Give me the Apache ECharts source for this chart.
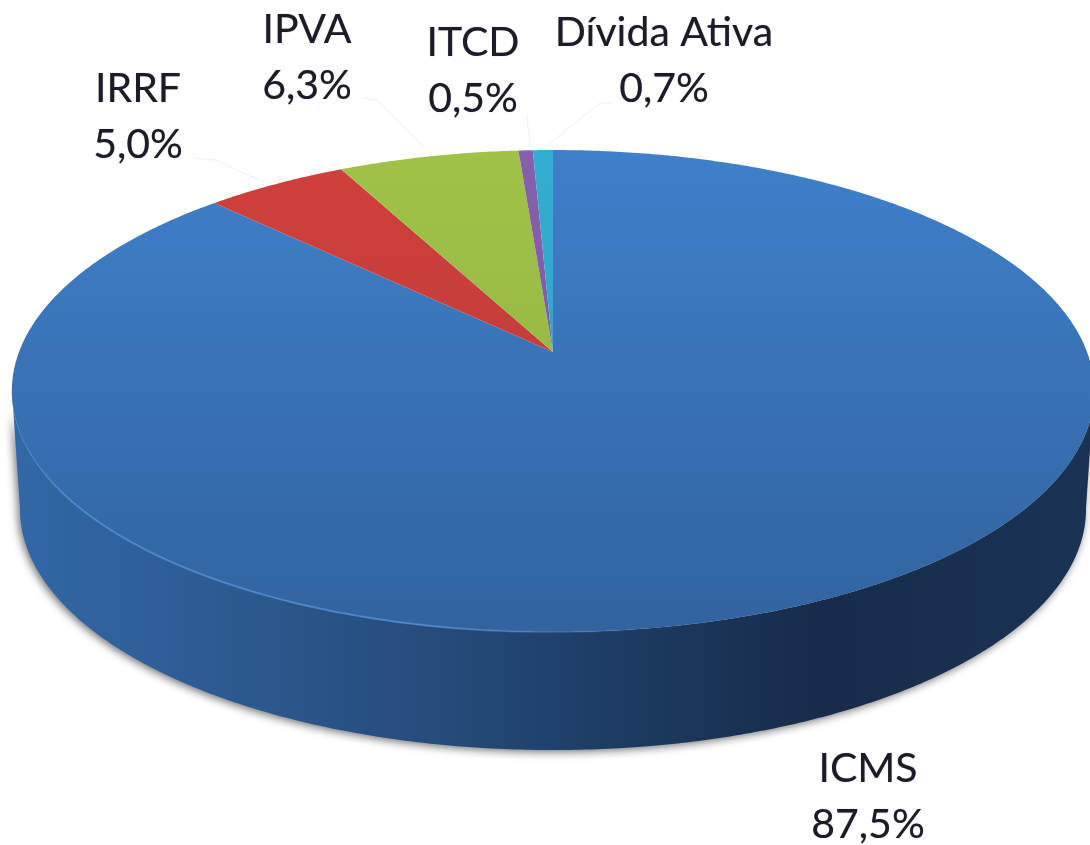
<!DOCTYPE html>
<html>
<head>
<meta charset="utf-8">
<script src="https://cdn.jsdelivr.net/npm/echarts@6/dist/echarts.min.js"></script>
<style>html,body{margin:0;padding:0;background:#fff}#c{width:1090px;height:845px}</style>
</head>
<body>
<div id="c"></div>
<script>
var categories = ['ICMS', 'IRRF', 'IPVA', 'ITCD', 'Dívida Ativa'];
var values = [87.5, 5.0, 6.3, 0.5, 0.7];

// drawing constants (perspective view of the disc)
var view = { ax: 553, ay: 352, A: 534, B: 234.7, k: 0.162, depth: 118, baseScale: 0.985, wallFrom: 99, wallTo: 261 };
var faceColors = [['#3f80cb', '#31639f'], ['#cf403c', '#b83a38'], ['#a0c248', '#8fb040'], ['#8560ad', '#7a56a0'], ['#33aed0', '#2a9cbc']];
var labelAt = [[868, 797], [138, 117], [307, 58], [473, 71], [664, 61]];
var leaders = [null, [[195, 158], [215, 160], [264, 182]], [[362, 98], [377, 100], [425, 148]], [[527, 115], [530, 147]], [[613, 103], [600, 103], [545, 147]]];

var total = values.reduce(function (s, v) { return s + v; }, 0);
var cum = [0];
values.forEach(function (v, i) { cum.push(cum[i] + v); });

function project(deg, base) {
  var t = deg * Math.PI / 180, u = Math.sin(t), v = Math.cos(t), w = 1 + view.k * v;
  var sx = base ? view.baseScale : 1;
  return [view.ax + sx * view.A * u / w, view.ay - view.B * v / w + (base ? view.depth : 0)];
}
function arc(a, b, base) {
  var pts = [], n = Math.max(2, Math.ceil((b - a) / 0.5));
  for (var i = 0; i <= n; i++) pts.push(project(a + (b - a) * i / n, base));
  return pts;
}
function hGrad(stops) { return new echarts.graphic.LinearGradient(0, 0, 1090, 0, stops, true); }
function vGrad(c) { return new echarts.graphic.LinearGradient(0, 150, 0, 632, [{ offset: 0, color: c[0] }, { offset: 1, color: c[1] }], true); }

function renderItem(params, api) {
  var i = params.dataIndex;
  var a = api.value(1) / total * 360, b = api.value(2) / total * 360;
  var children = [];
  var wa = Math.max(a, view.wallFrom), wb = Math.min(b, view.wallTo);
  if (wb > wa) {
    children.push({
      type: 'polygon', silent: true,
      shape: { points: arc(wa, wb, false).concat(arc(wa, wb, true).reverse()) },
      style: {
        fill: hGrad([
          { offset: 0, color: '#3269a8' }, { offset: 0.18, color: '#2d5c94' }, { offset: 0.4, color: '#254c7b' },
          { offset: 0.56, color: '#1d3c64' }, { offset: 0.75, color: '#172c4a' }, { offset: 1, color: '#1a3354' }
        ]),
        shadowColor: 'rgba(0,0,0,0.55)', shadowBlur: 8, shadowOffsetX: -2, shadowOffsetY: 2
      }
    });
  }
  children.push({
    type: 'polygon',
    shape: { points: [[view.ax, view.ay]].concat(arc(a, b, false)) },
    style: { fill: vGrad(faceColors[i]) }
  });
  if (wb > wa) {
    children.push({
      type: 'polyline', silent: true,
      shape: { points: arc(wa, wb, false) },
      style: {
        fill: null, lineWidth: 2,
        stroke: hGrad([
          { offset: 0.01, color: 'rgba(78,138,208,0)' }, { offset: 0.06, color: 'rgba(78,138,208,0.8)' },
          { offset: 0.4, color: 'rgba(84,140,208,0.8)' }, { offset: 0.6, color: 'rgba(84,140,208,0)' },
          { offset: 1, color: 'rgba(84,140,208,0)' }
        ])
      }
    });
  }
  if (leaders[i]) {
    children.push({
      type: 'polyline', silent: true, shape: { points: leaders[i] },
      style: { fill: null, stroke: '#f1f1f1', lineWidth: 1 }
    });
  }
  children.push({
    type: 'text', silent: true,
    style: {
      text: categories[i] + '\n' + values[i].toFixed(1).replace('.', ',') + '%',
      x: labelAt[i][0], y: labelAt[i][1], align: 'center', verticalAlign: 'middle',
      font: '41px Lato', lineHeight: 56, fill: '#1b1c28',
      textShadowColor: 'rgba(27,28,40,0.5)', textShadowBlur: 1
    }
  });
  return { type: 'group', children: children };
}

var chart = echarts.init(document.getElementById('c'), null, { renderer: 'canvas' });
chart.setOption({
  animation: false,
  backgroundColor: '#ffffff',
  series: [{
    type: 'custom',
    coordinateSystem: 'none',
    renderItem: renderItem,
    data: values.map(function (v, i) { return [v, cum[i], cum[i + 1]]; })
  }]
});
</script>
</body>
</html>
